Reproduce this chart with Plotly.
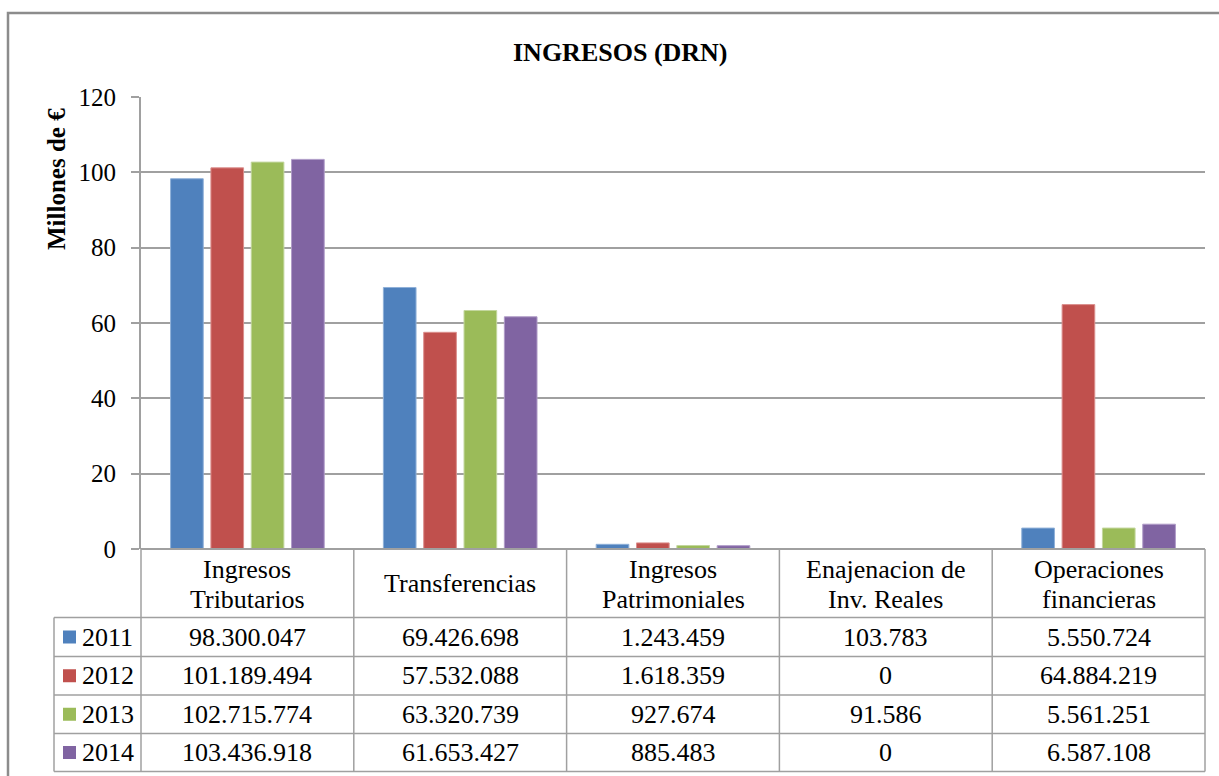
import plotly.graph_objects as go

# ---------------- data ----------------
categories = ["Ingresos<br>Tributarios", "Transferencias", "Ingresos<br>Patrimoniales",
              "Enajenacion de<br>Inv. Reales", "Operaciones<br>financieras"]
years = ["2011", "2012", "2013", "2014"]
v2011 = [98300047, 69426698, 1243459, 103783, 5550724]
v2012 = [101189494, 57532088, 1618359, 0, 64884219]
v2013 = [102715774, 63320739, 927674, 91586, 5561251]
v2014 = [103436918, 61653427, 885483, 0, 6587108]
y_ticks = [0, 20, 40, 60, 80, 100, 120]
title_text = "INGRESOS (DRN)"
y_title = "Millones de €"

series = [v2011, v2012, v2013, v2014]
colors = ["#4F81BD", "#C0504D", "#9BBB59", "#8064A2"]
edge = ["#8FB0D8", "#DB8F8D", "#C3D79E", "#B09CC8"]

# ---------------- layout geometry (pixels) ----------------
W, H = 1219, 776
L, R, T, B = 141, 14, 97, 227
PW = W - L - R
PH = H - T - B
Y0 = H - B  # pixel y of the plot bottom


def px(x):
    return (x - L) / PW


def py(y):
    return (Y0 - y) / PH


FONT = "Liberation Serif, Times New Roman, serif"
GRID = "#A0A0A0"
TABLE = "#A0A0A0"
TS = 26  # table font size

fig = go.Figure()
for yr, vals, c, e in zip(years, series, colors, edge):
    fig.add_trace(go.Bar(
        x=categories, y=[v / 1e6 for v in vals], name=yr,
        marker=dict(color=c, line=dict(color=e, width=1)),
        hoverinfo="x+y+name",
    ))

shapes = []
annotations = []

# outer chart border (left/top visible, rest cropped)
shapes.append(dict(type="rect", xref="paper", yref="paper",
                   x0=px(8), x1=px(W + 20), y0=py(13), y1=py(H + 20),
                   line=dict(color="#8C8C8C", width=2.5), fillcolor="rgba(0,0,0,0)",
                   layer="below"))

# table geometry
header_bottom = 617.5
row_lines = [617.5, 656.5, 695, 733.5, 771.5]
legend_left = 54
n = len(categories)

# horizontal lines
shapes.append(dict(type="line", xref="paper", yref="paper", x0=0, x1=1,
                   y0=py(Y0), y1=py(Y0), line=dict(color=TABLE, width=2)))
for yl in row_lines:
    shapes.append(dict(type="line", xref="paper", yref="paper",
                       x0=px(legend_left), x1=1, y0=py(yl), y1=py(yl),
                       line=dict(color=TABLE, width=1.5)))
# vertical lines
for k in range(n + 1):
    shapes.append(dict(type="line", xref="paper", yref="paper",
                       x0=k / n, x1=k / n, y0=py(Y0), y1=py(row_lines[-1]),
                       line=dict(color=TABLE, width=1.5)))
shapes.append(dict(type="line", xref="paper", yref="paper",
                   x0=px(legend_left), x1=px(legend_left),
                   y0=py(row_lines[0]), y1=py(row_lines[-1]),
                   line=dict(color=TABLE, width=1.5)))

# header category labels (each line placed separately for tight leading)
for k, cat in enumerate(categories):
    lines = cat.split("<br>")
    if len(lines) == 1:
        ys = [(Y0 + header_bottom) / 2]
    else:
        ys = [569, 599]
    for line, yy in zip(lines, ys):
        annotations.append(dict(xref="paper", yref="paper", x=(k + 0.5) / n,
                                y=py(yy), text=line, showarrow=False,
                                xanchor="center", yanchor="middle", align="center",
                                font=dict(family=FONT, size=TS, color="#000000")))

# data rows
for r, (yr, vals, c) in enumerate(zip(years, series, colors)):
    yc = (row_lines[r] + row_lines[r + 1]) / 2
    shapes.append(dict(type="rect", xref="paper", yref="paper",
                       x0=px(63), x1=px(76), y0=py(yc - 6.5), y1=py(yc + 6.5),
                       fillcolor=c, line=dict(width=0)))
    annotations.append(dict(xref="paper", yref="paper", x=px(80), y=py(yc),
                            text=yr, showarrow=False, xanchor="left", yanchor="middle",
                            font=dict(family=FONT, size=TS, color="#000000")))
    for k, v in enumerate(vals):
        annotations.append(dict(xref="paper", yref="paper", x=(k + 0.5) / n, y=py(yc),
                                text=f"{v:,}".replace(",", "."), showarrow=False,
                                xanchor="center", yanchor="middle",
                                font=dict(family=FONT, size=TS, color="#000000")))

# title
annotations.append(dict(xref="paper", yref="paper", x=px(620), y=py(52),
                        text=f"<b>{title_text}</b>", showarrow=False,
                        xanchor="center", yanchor="middle",
                        font=dict(family=FONT, size=26, color="#000000")))
# y axis title
annotations.append(dict(xref="paper", yref="paper", x=px(57), y=py(179),
                        text=f"<b>{y_title}</b>", showarrow=False, textangle=-90,
                        xanchor="center", yanchor="middle",
                        font=dict(family=FONT, size=25, color="#000000")))

fig.update_layout(
    width=W, height=H,
    margin=dict(l=L, r=R, t=T, b=B, pad=0),
    paper_bgcolor="#FFFFFF", plot_bgcolor="#FFFFFF",
    barmode="group", bargap=0.242, bargroupgap=0.19,
    showlegend=False,
    shapes=shapes, annotations=annotations,
    font=dict(family=FONT, size=24, color="#000000"),
)
fig.update_xaxes(showticklabels=False, ticks="", showgrid=False, showline=False,
                 zeroline=False, range=[-0.5, n - 0.5])
fig.update_yaxes(range=[0, 120], tickvals=y_ticks, ticks="outside", ticklen=8,
                 tickcolor=GRID, tickwidth=1.5, showgrid=True, gridcolor=GRID,
                 gridwidth=1.5, showline=True, linecolor=GRID, linewidth=2,
                 zeroline=False, ticklabelstandoff=10,
                 tickfont=dict(family=FONT, size=25, color="#000000"))

fig.write_html("out.html",
               config={"displayModeBar": False},
               post_script="document.body.style.margin='0';document.body.style.overflow='hidden';")
